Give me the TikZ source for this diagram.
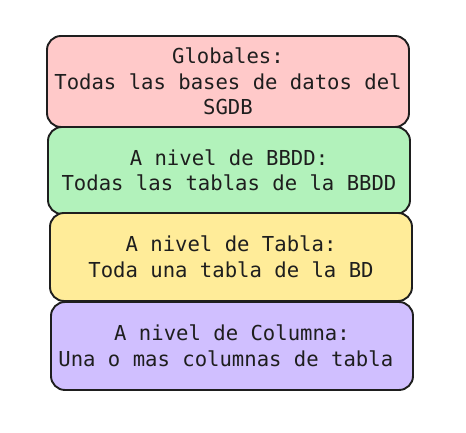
\documentclass[tikz,border=0pt]{standalone}
\usepackage{fontspec}
\setmonofont{DejaVu Sans Mono}

\definecolor{trazo}{HTML}{1E1E1E}
\definecolor{rojo}{HTML}{FFC9C9}
\definecolor{verde}{HTML}{B2F2BB}
\definecolor{amarillo}{HTML}{FFEC99}
\definecolor{lila}{HTML}{D0BFFF}

\tikzset{
  nivel/.style={draw=trazo, text=trazo, line width=1.9pt, rounded corners=14pt,
    inner sep=0pt, minimum width=362pt, align=center,
    font=\ttfamily\fontsize{20.6}{25.5}\selectfont}
}

\begin{document}
\begin{tikzpicture}[x=1pt,y=1pt]
  \useasboundingbox (0,0) rectangle (466,433);

  \node[nivel, fill=rojo, minimum height=91pt] (global) at (228,351.5)
    {Globales:\\Todas las bases de datos del\\SGDB};
  \node[nivel, fill=verde, minimum height=87pt] (bbdd) at (229,262.5)
    {A nivel de BBDD:\\Todas las tablas de la BBDD};
  \node[nivel, fill=amarillo, minimum height=88pt] (tabla) at (231,176)
    {A nivel de Tabla:\\Toda una tabla de la BD};
  \node[nivel, fill=lila, minimum height=88pt] (columna) at (232,87)
    {A nivel de Columna:\\Una o mas columnas de tabla\phantom{a}};
\end{tikzpicture}
\end{document}
